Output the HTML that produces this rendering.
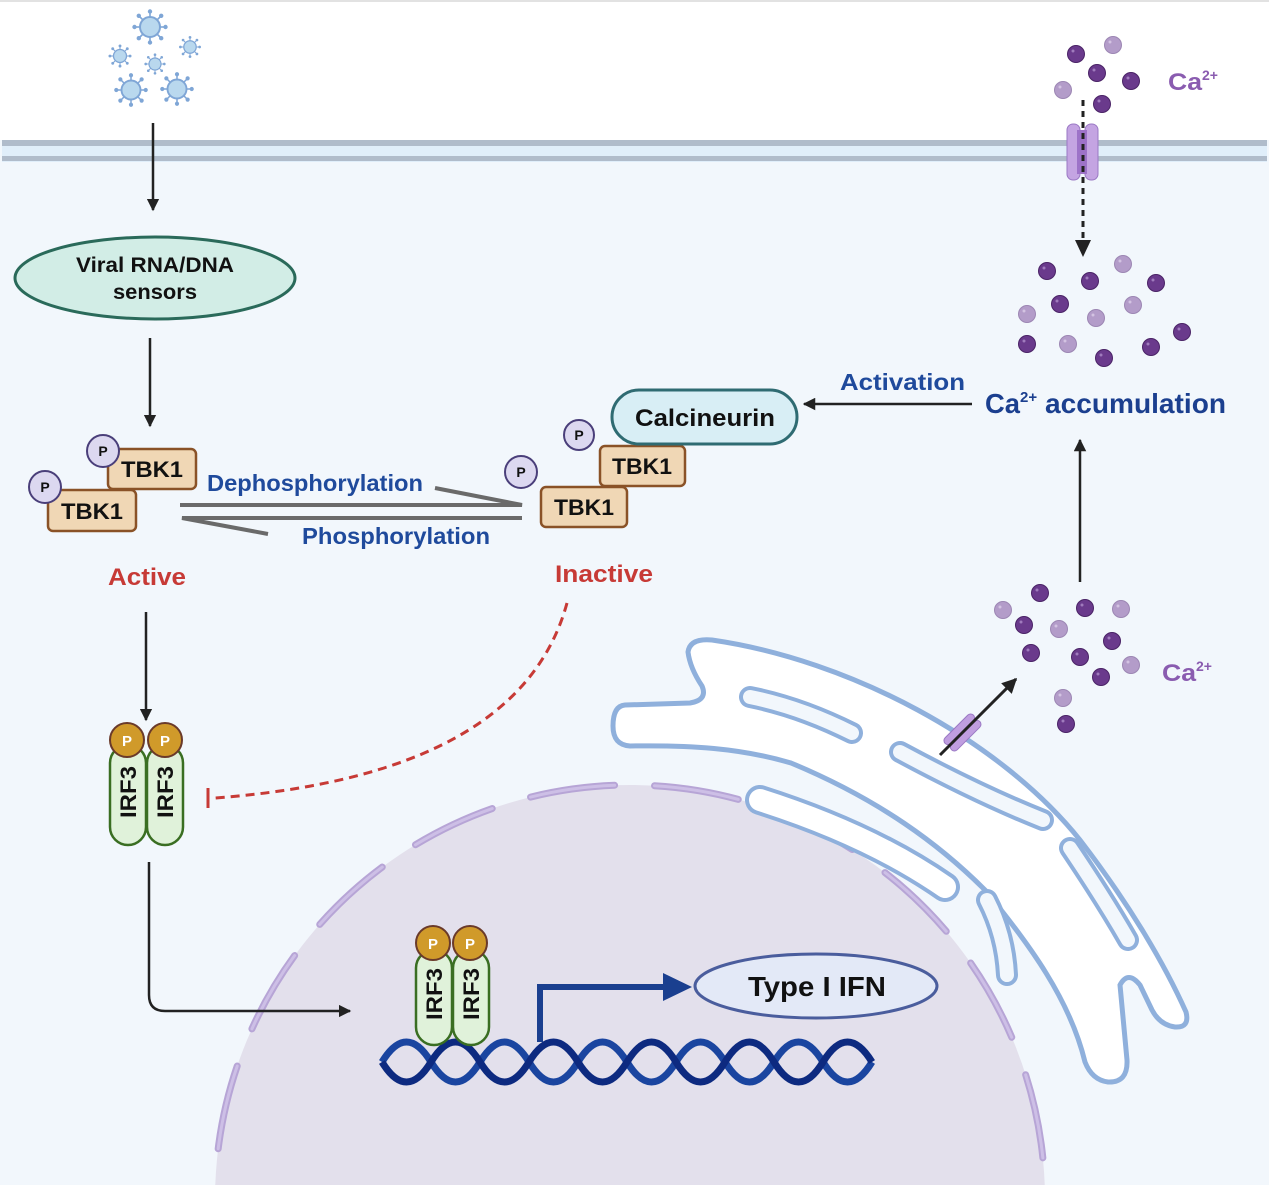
<!DOCTYPE html>
<html><head><meta charset="utf-8"><style>html,body{margin:0;padding:0;background:#fff;width:1269px;height:1185px;overflow:hidden}svg{display:block}</style></head>
<body>
<svg width="1269" height="1185" viewBox="0 0 1269 1185" xmlns="http://www.w3.org/2000/svg" font-family="Liberation Sans, sans-serif">
<defs>
<g id="vir">
 <g stroke="#7fa6d6" stroke-width="1.6">
  <line x1="0" y1="-10" x2="0" y2="-15"/><line x1="0" y1="10" x2="0" y2="15"/>
  <line x1="-10" y1="0" x2="-15" y2="0"/><line x1="10" y1="0" x2="15" y2="0"/>
  <line x1="7" y1="7" x2="11" y2="11"/><line x1="-7" y1="7" x2="-11" y2="11"/>
  <line x1="7" y1="-7" x2="11" y2="-11"/><line x1="-7" y1="-7" x2="-11" y2="-11"/>
 </g>
 <g fill="#7fa6d6">
  <circle cx="0" cy="-15.5" r="2.2"/><circle cx="0" cy="15.5" r="2.2"/><circle cx="-15.5" cy="0" r="2.2"/><circle cx="15.5" cy="0" r="2.2"/>
  <circle cx="11.2" cy="11.2" r="2.2"/><circle cx="-11.2" cy="11.2" r="2.2"/><circle cx="11.2" cy="-11.2" r="2.2"/><circle cx="-11.2" cy="-11.2" r="2.2"/>
 </g>
 <circle r="10" fill="#b9d8ee" stroke="#7fa6d6" stroke-width="2"/>
</g>
<g id="cd"><circle r="8.5" fill="#6a3a8c" stroke="#4a2366" stroke-width="1"/><circle cx="-3" cy="-3" r="1.5" fill="#a07bbd"/></g>
<g id="cl"><circle r="8.5" fill="#b39cc9" stroke="#9c86b3" stroke-width="1"/><circle cx="-3" cy="-3" r="1.5" fill="#d3c3e2"/></g>
<marker id="ah" viewBox="0 0 10 10" refX="9" refY="5" markerWidth="5" markerHeight="5" orient="auto"><path d="M0,0 L10,5 L0,10 Z" fill="#222"/></marker>
<clipPath id="cp"><rect x="0" y="0" width="1269" height="1185"/></clipPath>
</defs>

<rect width="1269" height="1185" fill="#f2f7fc"/>
<rect width="1269" height="140" fill="#fff"/>
<line x1="0" y1="1" x2="1269" y2="1" stroke="#e2e2e2" stroke-width="2"/>
<rect x="2" y="140" width="1265" height="22" fill="#e0eefa"/>
<rect x="2" y="140" width="1265" height="6" fill="#b0bccb"/>
<rect x="2" y="156" width="1265" height="5" fill="#b0bccb"/>

<use href="#vir" transform="translate(150,27) scale(1)"/>
<use href="#vir" transform="translate(120,56) scale(0.65)"/>
<use href="#vir" transform="translate(155,64) scale(0.6)"/>
<use href="#vir" transform="translate(190,47) scale(0.62)"/>
<use href="#vir" transform="translate(131,90) scale(0.95)"/>
<use href="#vir" transform="translate(177,89) scale(0.95)"/>

<g clip-path="url(#cp)">
<circle cx="630" cy="1200" r="415" fill="#e3e0ec"/>
<circle cx="630" cy="1200" r="415" fill="none" stroke="#b7a5d6" stroke-width="7" stroke-linecap="round" stroke-dasharray="85 40" stroke-dashoffset="20"/>
<circle cx="630" cy="1200" r="415" fill="none" stroke="#cdbfe6" stroke-width="3" stroke-linecap="round" stroke-dasharray="85 40" stroke-dashoffset="20"/>
</g>

<!-- ER -->
<path d="M625,705 L690,703 Q708,700 702,686 Q690,668 688,652 Q690,638 712,640 C850,660 1000,740 1080,840 C1130,905 1165,965 1186,1012 Q1190,1028 1175,1027 Q1160,1025 1152,1010 L1140,985 Q1128,970 1120,985 L1127,1060 Q1128,1083 1108,1082 Q1092,1080 1085,1062 C1070,1000 1030,945 985,890 C940,845 880,800 791,763 C740,748 690,745 630,746 Q613,745 613,726 Q613,706 625,705 Z" fill="#fff" stroke="#8fb0dc" stroke-width="5"/>
<g fill="none" stroke-linecap="round">
 <g stroke="#8fb0dc" stroke-width="22">
  <path d="M750,697 Q800,707 852,733"/>
  <path d="M900,752 Q980,795 1043,820"/>
  <path d="M987,900 Q1005,935 1007,975"/>
  <path d="M1070,848 Q1105,900 1128,940"/>
 </g>
 <g stroke="#f2f7fc" stroke-width="14">
  <path d="M750,697 Q800,707 852,733"/>
  <path d="M900,752 Q980,795 1043,820"/>
  <path d="M987,900 Q1005,935 1007,975"/>
  <path d="M1070,848 Q1105,900 1128,940"/>
 </g>
 <path d="M760,800 Q870,835 945,887" stroke="#8fb0dc" stroke-width="30"/>
 <path d="M760,800 Q870,835 945,887" stroke="#fff" stroke-width="22"/>
</g>
<g transform="translate(960,730) rotate(-45)">
 <rect x="-20" y="-5" width="40" height="8" rx="4" fill="#c09ee0" stroke="#9a78c4"/>
 <rect x="-20" y="4" width="40" height="8" rx="4" fill="#c09ee0" stroke="#9a78c4"/>
</g>
<line x1="940" y1="755" x2="1016" y2="679" stroke="#222" stroke-width="3" marker-end="url(#ah)"/>

<use href="#cd" x="1076" y="54"/><use href="#cl" x="1113" y="45"/><use href="#cd" x="1097" y="73"/><use href="#cd" x="1131" y="81"/><use href="#cl" x="1063" y="90"/><use href="#cd" x="1102" y="104"/>
<use href="#cd" x="1047" y="271"/><use href="#cd" x="1090" y="281"/><use href="#cl" x="1123" y="264"/><use href="#cd" x="1156" y="283"/><use href="#cd" x="1060" y="304"/><use href="#cl" x="1133" y="305"/><use href="#cl" x="1096" y="318"/><use href="#cl" x="1027" y="314"/><use href="#cd" x="1182" y="332"/><use href="#cd" x="1027" y="344"/><use href="#cl" x="1068" y="344"/><use href="#cd" x="1104" y="358"/><use href="#cd" x="1151" y="347"/>
<use href="#cd" x="1040" y="593"/><use href="#cl" x="1003" y="610"/><use href="#cd" x="1085" y="608"/><use href="#cl" x="1121" y="609"/><use href="#cd" x="1024" y="625"/><use href="#cl" x="1059" y="629"/><use href="#cd" x="1112" y="641"/><use href="#cd" x="1031" y="653"/><use href="#cd" x="1080" y="657"/><use href="#cl" x="1131" y="665"/><use href="#cd" x="1101" y="677"/><use href="#cl" x="1063" y="698"/><use href="#cd" x="1066" y="724"/>

<rect x="1067" y="124" width="13" height="56" rx="6" fill="#c4a4e2" stroke="#9a78c4"/>
<rect x="1085" y="124" width="13" height="56" rx="6" fill="#c4a4e2" stroke="#9a78c4"/>
<rect x="1077" y="130" width="10" height="44" fill="#9d72c8"/>
<line x1="1083" y1="100" x2="1083" y2="240" stroke="#222" stroke-width="3" stroke-dasharray="6 5"/>
<path d="M1075,240 L1091,240 L1083,257 Z" fill="#222"/>

<text x="1168" y="90" font-size="24" font-weight="bold" fill="#8a5cb0" textLength="34" lengthAdjust="spacingAndGlyphs">Ca</text>
<text x="1202" y="80" font-size="14" font-weight="bold" fill="#8a5cb0">2+</text>
<text x="1162" y="681" font-size="24" font-weight="bold" fill="#8a5cb0" textLength="34" lengthAdjust="spacingAndGlyphs">Ca</text>
<text x="1196" y="671" font-size="14" font-weight="bold" fill="#8a5cb0">2+</text>

<g stroke="#222" stroke-width="2.5" fill="none">
 <line x1="153" y1="123" x2="153" y2="210" marker-end="url(#ah)"/>
 <line x1="150" y1="338" x2="150" y2="426" marker-end="url(#ah)"/>
 <line x1="146" y1="612" x2="146" y2="720" marker-end="url(#ah)"/>
 <line x1="972" y1="404" x2="804" y2="404" marker-end="url(#ah)"/>
 <line x1="1080" y1="582" x2="1080" y2="440" marker-end="url(#ah)"/>
 <path d="M149,862 L149,995 Q149,1011 165,1011 L350,1011" marker-end="url(#ah)"/>
</g>

<ellipse cx="155" cy="278" rx="140" ry="41" fill="#d2ede6" stroke="#2a6a5a" stroke-width="3"/>
<text x="155" y="272" font-size="21" font-weight="bold" text-anchor="middle" fill="#111" textLength="158" lengthAdjust="spacingAndGlyphs">Viral RNA/DNA</text>
<text x="155" y="299" font-size="21" font-weight="bold" text-anchor="middle" fill="#111" textLength="84" lengthAdjust="spacingAndGlyphs">sensors</text>

<g font-weight="bold" font-size="22">
 <rect x="108" y="449" width="88" height="40" rx="5" fill="#f0d7b5" stroke="#8a5227" stroke-width="2.5"/>
 <text x="152" y="477" text-anchor="middle" fill="#111" textLength="62" lengthAdjust="spacingAndGlyphs">TBK1</text>
 <rect x="48" y="490" width="88" height="41" rx="5" fill="#f0d7b5" stroke="#8a5227" stroke-width="2.5"/>
 <text x="92" y="519" text-anchor="middle" fill="#111" textLength="62" lengthAdjust="spacingAndGlyphs">TBK1</text>
 <rect x="600" y="446" width="85" height="40" rx="5" fill="#f0d7b5" stroke="#8a5227" stroke-width="2.5"/>
 <text x="642" y="474" text-anchor="middle" fill="#111" textLength="60" lengthAdjust="spacingAndGlyphs">TBK1</text>
 <rect x="541" y="487" width="86" height="40" rx="5" fill="#f0d7b5" stroke="#8a5227" stroke-width="2.5"/>
 <text x="584" y="515" text-anchor="middle" fill="#111" textLength="60" lengthAdjust="spacingAndGlyphs">TBK1</text>
</g>
<g font-size="14" font-weight="bold" fill="#111" text-anchor="middle">
 <circle cx="103" cy="451" r="16" fill="#dcd8f0" stroke="#4a3f7a" stroke-width="2"/><text x="103" y="456">P</text>
 <circle cx="45" cy="487" r="16" fill="#dcd8f0" stroke="#4a3f7a" stroke-width="2"/><text x="45" y="492">P</text>
 <circle cx="579" cy="435" r="15" fill="#dcd8f0" stroke="#4a3f7a" stroke-width="2"/><text x="579" y="440">P</text>
 <circle cx="521" cy="472" r="16" fill="#dcd8f0" stroke="#4a3f7a" stroke-width="2"/><text x="521" y="477">P</text>
</g>

<g stroke="#6a6a6a" stroke-width="4" fill="none">
 <path d="M180,505 L522,505 L435,488"/>
 <path d="M522,518 L182,518 L268,534"/>
</g>
<g font-weight="bold" fill="#1f4a9c" font-size="23">
 <text x="207" y="491" textLength="216" lengthAdjust="spacingAndGlyphs">Dephosphorylation</text>
 <text x="302" y="544" textLength="188" lengthAdjust="spacingAndGlyphs">Phosphorylation</text>
 <text x="840" y="390" textLength="125" lengthAdjust="spacingAndGlyphs">Activation</text>
</g>
<g font-weight="bold" fill="#c73a36" font-size="24">
 <text x="108" y="585" textLength="78" lengthAdjust="spacingAndGlyphs">Active</text>
 <text x="555" y="582" textLength="98" lengthAdjust="spacingAndGlyphs">Inactive</text>
</g>
<g font-weight="bold" fill="#1b3f8f">
 <text x="985" y="413" font-size="28" textLength="35" lengthAdjust="spacingAndGlyphs">Ca</text>
 <text x="1020" y="402" font-size="15">2+</text>
 <text x="1045" y="413" font-size="28" textLength="181" lengthAdjust="spacingAndGlyphs">accumulation</text>
</g>

<rect x="612" y="390" width="185" height="54" rx="27" fill="#d8eef5" stroke="#2f6b72" stroke-width="3"/>
<text x="705" y="426" font-size="24" font-weight="bold" text-anchor="middle" fill="#111" textLength="140" lengthAdjust="spacingAndGlyphs">Calcineurin</text>

<path d="M567,603 Q520,775 215,798" fill="none" stroke="#c73a36" stroke-width="3" stroke-dasharray="9 6"/>
<line x1="208" y1="788" x2="208" y2="808" stroke="#c73a36" stroke-width="3"/>

<g>
 <rect x="110" y="745" width="36" height="100" rx="18" fill="#e0f2da" stroke="#3a6e22" stroke-width="2.5"/>
 <rect x="147" y="745" width="36" height="100" rx="18" fill="#e0f2da" stroke="#3a6e22" stroke-width="2.5"/>
 <text transform="translate(136,818) rotate(-90)" font-size="22" font-weight="bold" fill="#111" textLength="52" lengthAdjust="spacingAndGlyphs">IRF3</text>
 <text transform="translate(173,818) rotate(-90)" font-size="22" font-weight="bold" fill="#111" textLength="52" lengthAdjust="spacingAndGlyphs">IRF3</text>
 <circle cx="127" cy="740" r="17" fill="#d09a2a" stroke="#6a3a2a" stroke-width="2"/>
 <circle cx="165" cy="740" r="17" fill="#d09a2a" stroke="#6a3a2a" stroke-width="2"/>
 <text x="127" y="746" font-size="15" font-weight="bold" fill="#fff" text-anchor="middle">P</text>
 <text x="165" y="746" font-size="15" font-weight="bold" fill="#fff" text-anchor="middle">P</text>
</g>

<g fill="none" stroke-width="7">
 <path d="M382,1062 q24.5,-40 49,0 t49,0 t49,0 t49,0 t49,0 t49,0 t49,0 t49,0 t49,0 t49,0" stroke="#1a45a0"/>
 <path d="M382,1062 q24.5,40 49,0 t49,0 t49,0 t49,0 t49,0 t49,0 t49,0 t49,0 t49,0 t49,0" stroke="#0d2a80"/>
</g>

<g>
 <rect x="416" y="950" width="36" height="95" rx="18" fill="#e0f2da" stroke="#3a6e22" stroke-width="2.5"/>
 <rect x="453" y="950" width="36" height="95" rx="18" fill="#e0f2da" stroke="#3a6e22" stroke-width="2.5"/>
 <text transform="translate(442,1020) rotate(-90)" font-size="22" font-weight="bold" fill="#111" textLength="52" lengthAdjust="spacingAndGlyphs">IRF3</text>
 <text transform="translate(479,1020) rotate(-90)" font-size="22" font-weight="bold" fill="#111" textLength="52" lengthAdjust="spacingAndGlyphs">IRF3</text>
 <circle cx="433" cy="943" r="17" fill="#d09a2a" stroke="#6a3a2a" stroke-width="2"/>
 <circle cx="470" cy="943" r="17" fill="#d09a2a" stroke="#6a3a2a" stroke-width="2"/>
 <text x="433" y="949" font-size="15" font-weight="bold" fill="#fff" text-anchor="middle">P</text>
 <text x="470" y="949" font-size="15" font-weight="bold" fill="#fff" text-anchor="middle">P</text>
</g>

<path d="M540,1042 L540,987 L665,987" fill="none" stroke="#1a3f8f" stroke-width="6"/>
<path d="M663,973 L692,987 L663,1001 Z" fill="#1a3f8f"/>
<ellipse cx="816" cy="986" rx="121" ry="32" fill="#e3e9f7" stroke="#4a5d9d" stroke-width="3"/>
<text x="817" y="996" font-size="28" font-weight="bold" text-anchor="middle" fill="#111" textLength="138" lengthAdjust="spacingAndGlyphs">Type I IFN</text>
</svg>
</body></html>
